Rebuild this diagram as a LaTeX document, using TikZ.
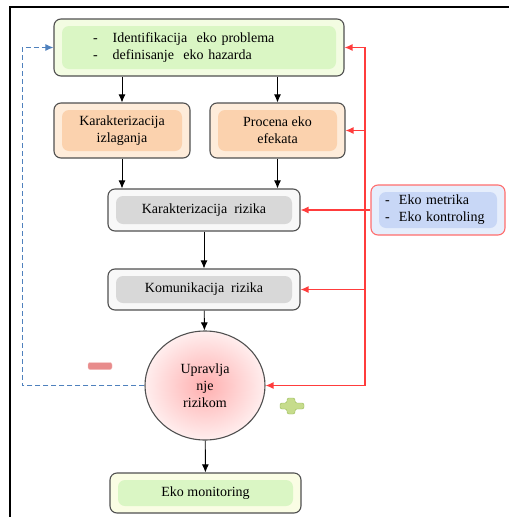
\documentclass[tikz,border=0pt]{standalone}
\usepackage{fontspec}
\setmainfont{Liberation Serif}
\newfontfamily\diagfont{Liberation Serif}
\usetikzlibrary{arrows.meta,shapes.geometric}
\definecolor{boxline}{RGB}{80,80,80}
\definecolor{greenin}{RGB}{218,246,196}
\definecolor{greenout}{RGB}{243,252,226}
\definecolor{orangein}{RGB}{251,210,174}
\definecolor{orangeout}{RGB}{254,236,218}
\definecolor{grayin}{RGB}{216,216,216}
\definecolor{grayout}{RGB}{248,248,248}
\definecolor{bluein}{RGB}{200,215,246}
\definecolor{blueout}{RGB}{230,238,252}
\definecolor{monout}{RGB}{250,253,228}
\definecolor{pinkin}{RGB}{255,175,175}
\definecolor{pinkout}{RGB}{255,238,238}
\definecolor{feedred}{RGB}{255,60,60}
\definecolor{loopblue}{RGB}{79,129,189}

\begin{document}
\begin{tikzpicture}[x=1pt, y=-1pt, every node/.style={font=\diagfont\fontsize{14}{17}\selectfont}]
\tikzset{
    box/.style={draw=boxline, line width=1.1pt, rounded corners=7pt, align=center, inner sep=0pt},
    band/.style={path picture={\fill[#1] ([xshift=8pt,yshift=-7pt]path picture bounding box.north west) rectangle ([xshift=-8pt,yshift=7pt]path picture bounding box.south east);}},
    arr/.style={-{Latex[length=8pt,width=7pt]}, line width=0.9pt},
    redarr/.style={-{Latex[length=8pt,width=7pt]}, feedred, line width=1.2pt},
    bluedash/.style={-{Latex[length=8pt,width=7pt]}, loopblue, line width=1pt, dash pattern=on 5pt off 3pt}
}
\useasboundingbox (0,0) rectangle (509,517);
\draw[line width=1.3pt] (10,517) -- (10,7) -- (509,7);

% boxes
\node[box, fill=greenout, band=greenin, minimum width=290, minimum height=57, text width=290, align=left] (ident) at (199,47.5)
    {\hspace*{39pt}-\hspace{15pt}Identifikacija\ \ eko problema\\\hspace*{39pt}-\hspace{15pt}definisanje\ \ eko hazarda};
\node[box, fill=orangeout, band=orangein, minimum width=136, minimum height=55] (izl) at (122,130.5) {Karakterizacija\\izlaganja};
\node[box, fill=orangeout, band=orangein, minimum width=135, minimum height=55] (efekti) at (277.5,130.5) {Procena eko\\efekata};
\node[box, fill=grayout, band=grayin, minimum width=192, minimum height=42] (rizik) at (204,210) {Karakterizacija\ \ rizika};
\node[box, fill=grayout, band=grayin, minimum width=192, minimum height=41] (kom) at (204,289.5) {Komunikacija\ \ rizika};
\node[ellipse, draw=boxline, line width=1.1pt, inner color=pinkin, outer color=pinkout, minimum width=120, minimum height=109, align=center] (upr) at (205,385.5) {Upravlja\\nje\\rizikom};
\node[box, fill=monout, band=greenin, minimum width=191, minimum height=40] (mon) at (205.5,493) {Eko monitoring};
\node[box, draw=feedred!75, fill=blueout, band=bluein, minimum width=134, minimum height=50, text width=134, align=left] (eko) at (438,210)
    {\hspace*{14pt}-\ \ Eko metrika\\\hspace*{14pt}-\ \ Eko kontroling};

% main flow
\draw[arr] (ident.south -| izl) -- (izl.north);
\draw[arr] (ident.south -| efekti) -- (efekti.north);
\draw[arr] (izl.south) -- (izl.south |- rizik.north);
\draw[arr] (efekti.south) -- (efekti.south |- rizik.north);
\draw[arr] (rizik) -- (kom);
\draw[arr] (kom) -- (upr);
\draw[arr] (upr) -- (mon);

% feedback
\coordinate (rbus) at (365,0);
\coordinate (lbus) at (22,0);
\draw[redarr, {Latex[length=8pt,width=7pt]}-{Latex[length=8pt,width=7pt]}] (ident.east) -- (ident.east -| rbus) -- (rbus |- upr.east) -- (upr.east);
\draw[redarr] (rbus |- efekti.east) -- (efekti.east);
\draw[redarr] (eko.west) -- (rizik.east);
\draw[redarr] (rbus |- kom.east) -- (kom.east);
\draw[bluedash] (upr.west) -- (upr.west -| lbus) -- (lbus |- ident.west) -- (ident.west);

% signs
\draw[rounded corners=2pt, fill={rgb,255:red,232;green,140;blue,140}, draw={rgb,255:red,245;green,190;blue,190}] (88,362.5) rectangle (112,369.5);
\draw[rounded corners=2pt, fill={rgb,255:red,198;green,220;blue,140}, draw={rgb,255:red,150;green,185;blue,85}]
    (287,398) -- (295,398) -- (295,403) -- (304,403) -- (304,409) -- (295,409) -- (295,414) -- (287,414) -- (287,409) -- (280,409) -- (280,403) -- (287,403) -- cycle;
\end{tikzpicture}
\end{document}
